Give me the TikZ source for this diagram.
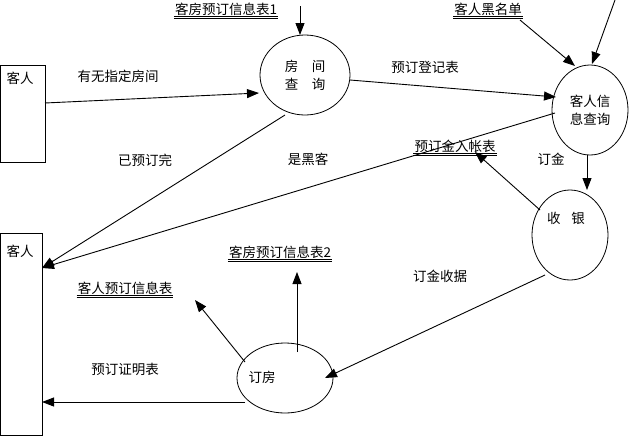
\documentclass[tikz,border=0pt]{standalone}
\usepackage{fontspec}
\newfontfamily\cjk{Noto Sans CJK SC}
\usetikzlibrary{arrows.meta}
\begin{document}
\begin{tikzpicture}[x=1pt,y=-1pt,font=\cjk\fontsize{13.5}{16}\selectfont,
  flow/.style={-{Triangle[length=12pt,width=9pt]},line width=0.9pt},
  lbl/.style={inner sep=1pt}]
\useasboundingbox (0,0) rectangle (635,437);
\draw[line width=0.8pt] (0,65) rectangle (45,162);
\node[lbl] (c1) at (20,78) {客人};
\coordinate (c1r) at (45,103);
\draw[line width=0.8pt] (0,233) rectangle (42,435);
\node[lbl] (c2) at (20,251) {客人};
\coordinate (c2a) at (42,268);
\coordinate (c2b) at (42,402);
\draw[line width=0.8pt] (305,75) ellipse (45 and 40);
\node[align=center] (p1) at (305,75) {房\hspace{1em}间\\[2pt]查\hspace{1em}询};
\draw[line width=0.8pt] (590,110) ellipse (38 and 45);
\node[align=center] (p2) at (590,110) {客人信\\[2pt]息查询};
\draw[line width=0.8pt] (570,235) ellipse (38 and 45);
\node (p3) at (566,218) {收\hspace{0.8em}银};
\draw[line width=0.8pt] (285,378) ellipse (48 and 35);
\node (p4) at (262,377) {订房};
% stores
\node[lbl] (s1) at (226,9) {客房预订信息表1};
\draw (s1.south west) -- (s1.south east) ([yshift=-2pt]s1.south west) -- ([yshift=-2pt]s1.south east);
\node[lbl] (s2) at (488,9) {客人黑名单};
\draw (s2.south west) -- (s2.south east) ([yshift=-2pt]s2.south west) -- ([yshift=-2pt]s2.south east);
\node[lbl] (s3) at (455,146) {预订金入帐表};
\draw (s3.south west) -- (s3.south east) ([yshift=-2pt]s3.south west) -- ([yshift=-2pt]s3.south east);
\node[lbl] (s4) at (280,252) {客房预订信息表2};
\draw (s4.south west) -- (s4.south east) ([yshift=-2pt]s4.south west) -- ([yshift=-2pt]s4.south east);
\node[lbl] (s5) at (125,288) {客人预订信息表};
\draw (s5.south west) -- (s5.south east) ([yshift=-2pt]s5.south west) -- ([yshift=-2pt]s5.south east);
% flows
\coordinate (t1) at (300,6);
\draw[flow] (t1) -- (300,35);
\coordinate (t2) at (520,20);
\draw[flow] (t2) -- (575,66);
\coordinate (t3) at (615,0);
\draw[flow] (t3) -- (592,64);
\draw[flow] (c1r) -- (259,93);
\node[lbl] at (118,76) {有无指定房间};
\draw[flow] (350,80) -- (556,97);
\node[lbl] at (425,67) {预订登记表};
\draw[flow] (285,115) -- (c2a);
\node[lbl] at (145,160) {已预订完};
\draw[flow] (555,113) -- (c2a);
\node[lbl] at (308,159) {是黑客};
\draw[flow] (587,155) -- (587,190);
\node[lbl] at (551,159) {订金};
\draw[flow] (540,210) -- (475,152);
\draw[flow] (545,275) -- (325,378);
\node[lbl] at (440,276) {订金收据};
\draw[flow] (297,352) -- (297,272);
\draw[flow] (245,362) -- (195,300);
\draw[flow] (245,402) -- (c2b);
\node[lbl] at (125,369) {预订证明表};
\end{tikzpicture}
\end{document}
